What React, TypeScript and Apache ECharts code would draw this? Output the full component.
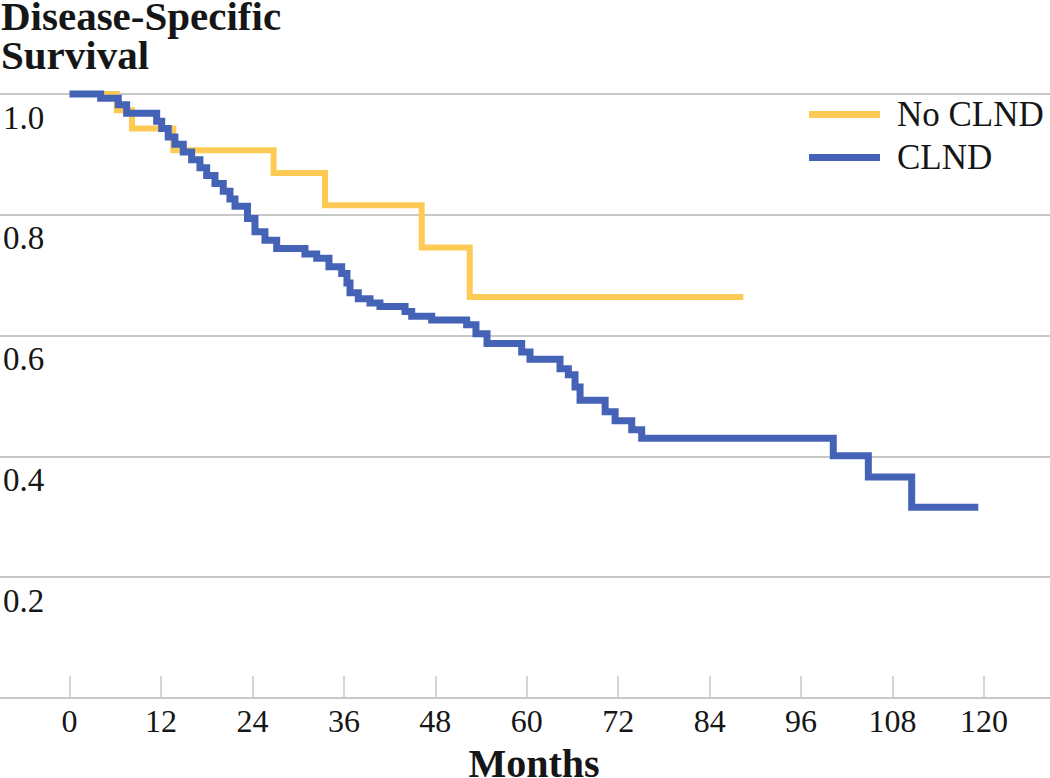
import React, { useEffect, useRef } from "react";
import * as echarts from "echarts";

const monthTicks = [0, 12, 24, 36, 48, 60, 72, 84, 96, 108, 120];

const noClndTimes = [0, 6.2, 8.19, 13.61, 26.78, 33.52, 46.21, 52.51, 88.41];
const noClndSurv = [1.0, 0.973, 0.943, 0.907, 0.869, 0.816, 0.746, 0.664, 0.664];

const clndTimes = [
  0, 4.08, 6.39, 7.49, 11.43, 12.09, 12.95, 13.83, 14.92, 16.02, 17.11, 17.99,
  19.08, 20.17, 21.05, 21.71, 23.35, 24.33, 25.64, 27.18, 30.89, 32.43, 34.04,
  35.71, 36.4, 36.8, 37.89, 39.42, 40.73, 44.02, 44.9, 47.52, 52.11, 53.33,
  54.78, 59.33, 60.42, 64.36, 65.45, 66.33, 66.99, 70.28, 71.59, 73.77, 75.08,
  100.22, 104.82, 110.51, 119.25,
];
const clndSurv = [
  1.0, 0.993, 0.982, 0.968, 0.955, 0.943, 0.929, 0.917, 0.904, 0.891, 0.878,
  0.865, 0.852, 0.839, 0.826, 0.814, 0.794, 0.772, 0.758, 0.744, 0.735, 0.728,
  0.714, 0.703, 0.687, 0.671, 0.661, 0.654, 0.648, 0.64, 0.632, 0.626, 0.618,
  0.603, 0.587, 0.573, 0.561, 0.545, 0.535, 0.515, 0.493, 0.474, 0.459, 0.444,
  0.43, 0.401, 0.366, 0.316, 0.316,
];

const SERIF = '"Liberation Serif", "Times New Roman", serif';
const GRID = "#c8c8c8";
const YELLOW = "#FDCB55";
const BLUE = "#4563B6";
const TEXT = "#161616";

export default function App() {
  const ref = useRef<HTMLDivElement>(null);
  useEffect(() => {
    document.body.style.margin = "0";
    if (!ref.current) return;
    const chart = echarts.init(ref.current, undefined, { renderer: "svg" });
    const zip = (t: number[], s: number[]) => t.map((v, i) => [v, s[i]]);
    chart.setOption({
      animation: false,
      backgroundColor: "#ffffff",
      grid: { left: 0, right: 0, top: 94, bottom: 80, containLabel: false },
      xAxis: {
        type: "value",
        min: -9.13,
        max: 128.66,
        splitLine: { show: false },
        axisLine: { show: true, lineStyle: { color: GRID, width: 2 } },
        axisTick: {
          show: true,
          inside: true,
          length: 22,
          customValues: monthTicks,
          lineStyle: { color: GRID, width: 1.5 },
        },
        axisLabel: {
          customValues: monthTicks,
          margin: 7,
          fontFamily: SERIF,
          fontSize: 32,
          color: TEXT,
          verticalAlign: "top",
        },
      },
      yAxis: {
        type: "value",
        min: 0,
        max: 1,
        interval: 0.2,
        axisLine: { show: false },
        axisTick: { show: false },
        splitLine: { show: true, lineStyle: { color: GRID, width: 2 } },
        axisLabel: {
          inside: true,
          margin: 3,
          align: "left",
          verticalAlign: "top",
          padding: [7, 0, 0, 0],
          fontFamily: SERIF,
          fontSize: 33,
          color: TEXT,
          formatter: (v: number) => (v === 0 ? "" : v.toFixed(1)),
        },
      },
      legend: {
        orient: "vertical",
        left: 809,
        top: 97,
        padding: 0,
        itemGap: 8,
        itemWidth: 71,
        itemHeight: 7,
        icon: "rect",
        textStyle: {
          fontFamily: SERIF,
          fontSize: 35,
          color: TEXT,
          padding: [0, 0, 0, 12],
        },
        data: ["No CLND", "CLND"],
      },
      graphic: [
        {
          type: "text",
          x: 1,
          y: 15.5,
          style: {
            text: "Disease-Specific",
            font: `bold 41px ${SERIF}`,
            lineHeight: 30,
            fill: TEXT,
            verticalAlign: "middle",
          },
        },
        {
          type: "text",
          x: 1,
          y: 55,
          style: {
            text: "Survival",
            font: `bold 41px ${SERIF}`,
            lineHeight: 30,
            fill: TEXT,
            verticalAlign: "middle",
          },
        },
        {
          type: "text",
          x: 534,
          y: 763.5,
          style: {
            text: "Months",
            font: `bold 40px ${SERIF}`,
            lineHeight: 28,
            fill: TEXT,
            align: "center",
            verticalAlign: "middle",
          },
        },
      ],
      series: [
        {
          name: "No CLND",
          type: "line",
          step: "end",
          showSymbol: false,
          clip: false,
          itemStyle: { color: YELLOW },
          lineStyle: { color: YELLOW, width: 6, join: "miter", cap: "butt" },
          data: zip(noClndTimes, noClndSurv),
        },
        {
          name: "CLND",
          type: "line",
          step: "end",
          showSymbol: false,
          clip: false,
          itemStyle: { color: BLUE },
          lineStyle: { color: BLUE, width: 7, join: "miter", cap: "butt" },
          data: zip(clndTimes, clndSurv),
        },
      ],
    });
    return () => chart.dispose();
  }, []);
  return <div ref={ref} style={{ width: 1050, height: 778 }} />;
}
